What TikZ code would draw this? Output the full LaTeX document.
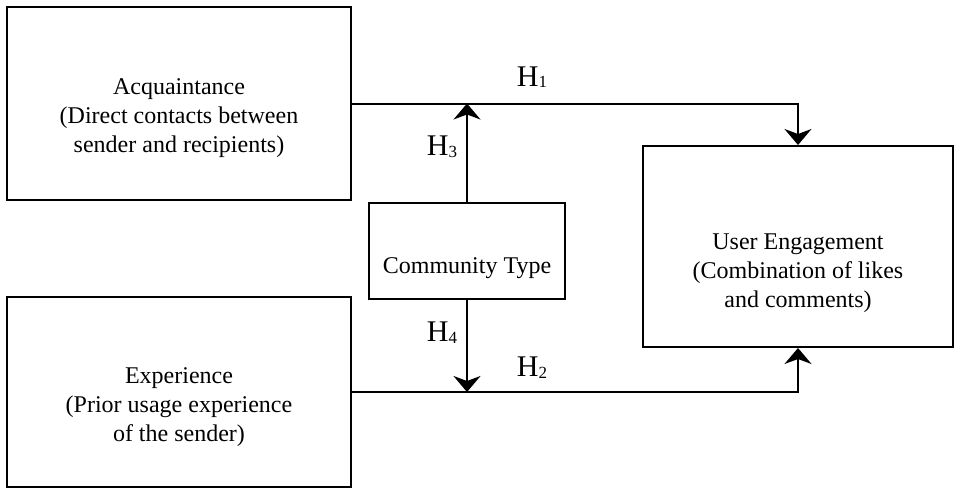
\documentclass[tikz,border=0pt]{standalone}
\usepackage{fontspec}
\setmainfont{Liberation Serif}
\usepackage{tikz}
\usetikzlibrary{arrows.meta,positioning,calc}
\newcommand{\hyp}[1]{H\raisebox{-1.5pt}{\fontsize{17}{17}\selectfont #1}}

\begin{document}
\begin{tikzpicture}[
  x=1pt, y=-1pt,
  box/.style={draw, rectangle, line width=2pt, inner sep=0pt},
  txt/.style={align=center, font=\fontsize{24}{29}\selectfont},
  hlab/.style={font=\fontsize{30}{30}\selectfont},
  arr/.style={-{Stealth[length=16pt, width=27pt, inset=5pt]}, line width=2pt}
]
  \fill[white] (0,0) rectangle (954,490);
  \useasboundingbox (0,0) rectangle (954,490);

  % boxes
  \node[box, minimum width=344, minimum height=193] (acq) at (179,103.5) {};
  \node[box, minimum width=344, minimum height=190] (exp) at (179,392) {};
  \node[box, minimum width=196, minimum height=96]  (ct)  at (467,251) {};
  \node[box, minimum width=310, minimum height=201] (ue)  at (798,246.5) {};

  % box texts
  \node[txt] (acqt) at ([yshift=-15]acq.center) {Acquaintance\\(Direct contacts between\\sender and recipients)};
  \node[txt] (expt) at ([yshift=-15]exp.center) {Experience\\(Prior usage experience\\of the sender)};
  \node[txt] (ctt)  at ([yshift=-17]ct.center)  {Community Type};
  \node[txt] (uet)  at ([yshift=-27]ue.center)  {User Engagement\\(Combination of likes\\and comments)};

  % paths
  \draw[arr] (acq.east) -| (ue.north);
  \draw[arr] (exp.east) -| (ue.south);
  \draw[arr] (ct.north) -- (ct.north |- acq.east);
  \draw[arr] (ct.south) -- (ct.south |- exp.east);

  % hypothesis labels
  \node[hlab] (h1) at (532,77)    {\hyp{1}};
  \node[hlab] (h2) at (532,367.5) {\hyp{2}};
  \node[hlab] (h3) at (442,147)   {\hyp{3}};
  \node[hlab] (h4) at (442,332.5) {\hyp{4}};

\end{tikzpicture}
\end{document}
